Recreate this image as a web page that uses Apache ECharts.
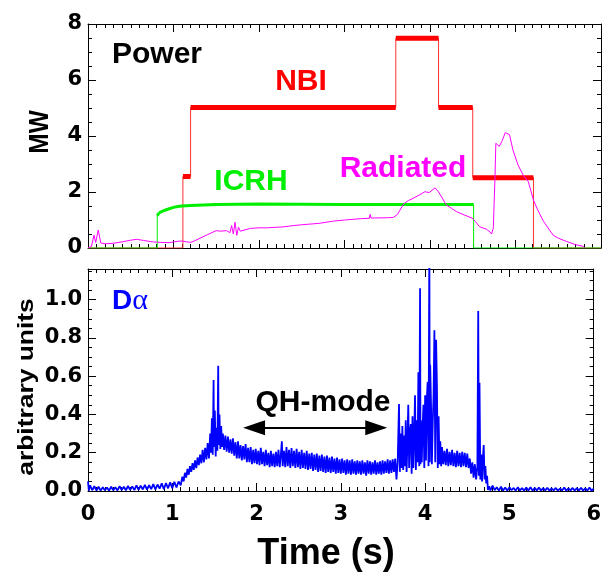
<!DOCTYPE html>
<html>
<head>
<meta charset="utf-8">
<script src="https://cdn.jsdelivr.net/npm/echarts@6/dist/echarts.min.js"></script>
<style>
html,body{margin:0;padding:0;background:#fff;}
#chart{width:604px;height:579px;}
</style>
</head>
<body>
<div id="chart"></div>
<script>
// ---------- data ----------
const xTickLabels = ['0','1','2','3','4','5','6'];
const powerTickLabels = ['0','2','4','6','8'];
const daTickLabels = ['0.0','0.2','0.4','0.6','0.8','1.0'];

// NBI power (MW), step trace
const nbiT = [0, 1.11, 1.11, 1.20, 1.20, 3.60, 3.60, 4.10, 4.10, 4.50, 4.50, 5.21, 5.21, 6.0];
const nbiP = [0, 0,    2.55, 2.55, 5.02, 5.02, 7.49, 7.49, 5.02, 5.02, 2.51, 2.51, 0,    0];

// ICRH power (MW)
const icrhT = [0, 0.81, 0.81, 0.83, 0.86, 0.90, 0.95, 1.00, 1.05, 1.10, 1.20, 1.50, 2.00, 2.50, 3.00, 3.50, 4.00, 4.51, 4.51, 6.0];
const icrhP = [0, 0,    1.15, 1.25, 1.30, 1.35, 1.40, 1.45, 1.48, 1.50, 1.52, 1.55, 1.57, 1.56, 1.55, 1.55, 1.55, 1.55, 0,    0];

// Radiated power (MW)
const radT = [0.00,0.04,0.07,0.09,0.12,0.15,0.20,0.30,0.40,0.50,0.57,0.65,0.75,0.85,0.95,1.05,1.10,1.15,1.20,1.25,1.31,1.40,1.50,1.55,1.62,1.66,1.68,1.70,1.72,1.74,1.76,1.78,1.80,1.90,2.00,2.09,2.20,2.27,2.40,2.50,2.70,2.87,3.00,3.20,3.29,3.30,3.31,3.50,3.57,3.62,3.69,3.75,3.80,3.88,3.94,3.99,4.06,4.10,4.15,4.19,4.25,4.31,4.40,4.49,4.53,4.58,4.66,4.70,4.72,4.74,4.76,4.77,4.81,4.84,4.88,4.93,4.97,5.03,5.09,5.15,5.21,5.26,5.33,5.44,5.50,5.60,5.70,5.79,5.81];
const radP = [0.00,0.05,0.46,0.20,0.64,0.18,0.15,0.17,0.22,0.28,0.31,0.27,0.22,0.20,0.19,0.24,0.25,0.22,0.20,0.26,0.35,0.48,0.62,0.60,0.62,0.55,0.80,0.50,0.92,0.45,0.75,0.60,0.65,0.70,0.72,0.72,0.74,0.75,0.80,0.83,0.88,0.96,1.00,1.05,1.06,1.20,1.07,1.08,1.09,1.20,1.57,1.70,1.77,1.90,2.01,1.98,2.15,2.00,1.75,1.54,1.42,1.30,1.18,1.07,0.95,0.76,0.67,0.58,0.50,0.70,2.50,3.74,3.63,3.80,4.12,4.05,3.50,2.96,2.60,2.37,1.71,1.36,0.94,0.46,0.35,0.23,0.12,0.06,0.00];

// D-alpha (arbitrary units), [time, value]
const dalpha = [
[0.000,0.050],[0.010,0.002],[0.025,0.030],[0.050,0.004],[0.075,0.025],[0.100,0.003],[0.125,0.022],[0.150,0.002],[0.175,0.020],[0.200,0.004],
[0.225,0.018],[0.250,0.002],[0.275,0.022],[0.300,0.004],[0.325,0.020],[0.350,0.003],[0.375,0.025],[0.400,0.005],[0.425,0.022],[0.450,0.004],
[0.475,0.026],[0.500,0.006],[0.525,0.024],[0.550,0.005],[0.575,0.030],[0.600,0.006],[0.625,0.028],[0.650,0.008],[0.675,0.032],[0.700,0.007],
[0.725,0.030],[0.750,0.010],[0.775,0.036],[0.800,0.008],[0.825,0.034],[0.850,0.012],[0.875,0.040],[0.900,0.010],[0.925,0.042],[0.950,0.014],
[0.975,0.045],[1.000,0.015],[1.025,0.048],[1.050,0.018],[1.075,0.050],[1.100,0.030],
[1.110,0.040],[1.120,0.075],[1.135,0.050],[1.150,0.095],[1.165,0.070],[1.180,0.115],[1.195,0.085],[1.210,0.130],[1.225,0.100],[1.240,0.145],
[1.255,0.110],[1.270,0.160],[1.285,0.120],[1.300,0.175],[1.315,0.135],[1.330,0.190],[1.345,0.145],[1.360,0.215],[1.375,0.150],[1.390,0.225],
[1.405,0.165],[1.420,0.250],[1.435,0.170],[1.450,0.300],[1.460,0.200],[1.470,0.380],[1.480,0.190],[1.490,0.580],[1.495,0.230],[1.505,0.420],
[1.515,0.180],[1.525,0.330],[1.535,0.210],[1.545,0.655],[1.550,0.240],[1.560,0.400],[1.570,0.220],[1.580,0.340],[1.590,0.230],[1.600,0.300],
[1.615,0.215],[1.630,0.290],[1.645,0.205],[1.660,0.285],[1.675,0.200],[1.690,0.270],[1.705,0.195],[1.720,0.275],[1.735,0.185],[1.750,0.255],
[1.765,0.170],[1.780,0.260],[1.795,0.170],[1.810,0.240],[1.825,0.160],[1.840,0.235],[1.855,0.165],[1.870,0.245],[1.885,0.150],[1.900,0.225],
[1.915,0.150],[1.930,0.230],[1.945,0.140],[1.960,0.215],[1.975,0.145],[1.990,0.220],[2.005,0.140],[2.020,0.210],[2.035,0.135],[2.050,0.225],
[2.065,0.140],[2.080,0.205],[2.095,0.130],[2.110,0.215],[2.125,0.135],[2.140,0.200],[2.155,0.125],[2.170,0.210],[2.185,0.130],[2.200,0.195],
[2.215,0.125],[2.230,0.205],[2.245,0.130],[2.260,0.215],[2.275,0.125],[2.290,0.200],[2.300,0.260],[2.310,0.130],[2.325,0.210],[2.340,0.125],
[2.355,0.230],[2.370,0.130],[2.385,0.215],[2.400,0.120],[2.415,0.225],[2.430,0.130],[2.445,0.210],[2.460,0.120],[2.475,0.220],[2.490,0.125],
[2.505,0.205],[2.520,0.115],[2.535,0.215],[2.550,0.120],[2.565,0.200],[2.580,0.115],[2.595,0.210],[2.610,0.110],[2.625,0.195],[2.640,0.115],
[2.655,0.200],[2.670,0.105],[2.685,0.190],[2.700,0.110],[2.715,0.195],[2.730,0.100],[2.745,0.185],[2.760,0.105],[2.775,0.190],[2.790,0.100],
[2.805,0.180],[2.820,0.095],[2.835,0.185],[2.850,0.100],[2.865,0.175],[2.880,0.095],[2.895,0.180],[2.910,0.100],[2.925,0.170],[2.940,0.090],
[2.955,0.175],[2.970,0.095],[2.985,0.165],[3.000,0.090],[3.015,0.170],[3.030,0.095],[3.045,0.160],[3.060,0.085],[3.075,0.165],[3.090,0.090],
[3.105,0.160],[3.120,0.085],[3.135,0.165],[3.150,0.090],[3.165,0.155],[3.180,0.085],[3.195,0.160],[3.210,0.090],[3.225,0.155],[3.240,0.085],
[3.255,0.160],[3.270,0.090],[3.285,0.150],[3.300,0.080],[3.315,0.160],[3.330,0.090],[3.345,0.155],[3.360,0.085],[3.375,0.150],[3.390,0.090],
[3.405,0.160],[3.420,0.085],[3.435,0.150],[3.450,0.090],[3.465,0.155],[3.480,0.085],[3.495,0.160],[3.510,0.090],[3.525,0.155],[3.540,0.095],
[3.555,0.165],[3.570,0.090],[3.585,0.160],[3.600,0.095],[3.615,0.165],[3.630,0.100],[3.645,0.170],[3.660,0.060],[3.675,0.160],[3.690,0.455],
[3.700,0.100],[3.710,0.300],[3.720,0.120],[3.730,0.340],[3.740,0.110],[3.750,0.290],[3.760,0.130],[3.770,0.370],[3.780,0.100],[3.790,0.250],
[3.800,0.450],[3.810,0.120],[3.820,0.300],[3.830,0.350],[3.840,0.090],[3.850,0.390],[3.860,0.120],[3.870,0.280],[3.880,0.500],[3.890,0.110],
[3.900,0.370],[3.910,0.150],[3.920,0.620],[3.930,0.130],[3.940,1.060],[3.945,0.140],[3.950,0.370],[3.960,0.150],[3.970,0.330],[3.980,0.450],
[3.990,0.120],[4.000,0.500],[4.010,0.160],[4.020,0.480],[4.030,0.570],[4.040,0.130],[4.050,1.300],[4.055,0.150],[4.060,0.660],[4.070,0.450],
[4.080,0.140],[4.090,0.350],[4.100,0.500],[4.110,0.840],[4.120,0.150],[4.130,0.790],[4.140,0.550],[4.150,0.120],[4.160,0.390],[4.170,0.140],
[4.180,0.260],[4.190,0.130],[4.200,0.230],[4.215,0.140],[4.230,0.210],[4.245,0.135],[4.260,0.220],[4.275,0.130],[4.290,0.205],[4.305,0.135],
[4.320,0.215],[4.335,0.130],[4.350,0.200],[4.365,0.125],[4.380,0.210],[4.395,0.130],[4.410,0.200],[4.425,0.125],[4.440,0.205],[4.455,0.130],
[4.470,0.200],[4.485,0.125],[4.500,0.195],[4.515,0.120],[4.530,0.170],[4.545,0.090],[4.560,0.150],[4.575,0.070],[4.590,0.140],[4.605,0.060],
[4.620,0.130],[4.630,0.940],[4.638,0.080],[4.645,0.565],[4.655,0.060],[4.665,0.190],[4.675,0.050],[4.685,0.170],[4.695,0.240],[4.705,0.060],
[4.715,0.130],[4.725,0.040],[4.735,0.080],[4.745,0.005],[4.760,0.025],
[4.775,0.003],[4.800,0.028],[4.825,0.004],[4.850,0.020],[4.875,0.002],[4.900,0.022],[4.925,0.003],[4.950,0.018],[4.975,0.002],[5.000,0.020],
[5.025,0.004],[5.050,0.016],[5.075,0.002],[5.100,0.019],[5.125,0.003],[5.150,0.015],[5.175,0.002],[5.200,0.018],[5.225,0.003],[5.250,0.020],
[5.275,0.002],[5.300,0.016],[5.325,0.003],[5.350,0.018],[5.375,0.002],[5.400,0.015],[5.425,0.003],[5.450,0.017],[5.475,0.002],[5.500,0.014],
[5.525,0.003],[5.550,0.016],[5.575,0.002],[5.600,0.013],[5.625,0.003],[5.650,0.018],[5.675,0.002],[5.700,0.014],[5.725,0.003],[5.750,0.016],
[5.775,0.002],[5.800,0.015],[5.825,0.003],[5.850,0.017],[5.875,0.002],[5.900,0.014],[5.925,0.003],[5.950,0.018],[5.975,0.002],[6.000,0.012]
];

// QH-mode double arrow (time span, level)
const arrowT = [1.97, 3.42];
const arrowV = 0.331;

// ---------- helpers ----------
const pairs = (T, P) => T.map((t, i) => [t, P[i]]);
function plateaus(T, P) {
  const out = [];
  for (let i = 0; i < T.length - 1; i++) {
    if (T[i] !== T[i + 1] && P[i] > 0 && P[i + 1] > 0) {
      out.push([T[i], P[i]], [T[i + 1], P[i + 1]], [null, null]);
    }
  }
  return out;
}

const LAB = 'DejaVu Sans';
const BLACK = '#000';

function xAx(gridIndex, position, showLabel) {
  return {
    type: 'value', gridIndex, position, min: 0, max: 6, interval: 1,
    axisLine: { show: true, onZero: false, lineStyle: { color: BLACK, width: 1 } },
    axisTick: { show: true, inside: true, length: 8, lineStyle: { color: BLACK, width: 1 } },
    minorTick: { show: true, splitNumber: 10, length: 4, lineStyle: { color: BLACK, width: 1 } },
    splitLine: { show: false }, minorSplitLine: { show: false },
    axisLabel: {
      show: showLabel, margin: 13, color: BLACK,
      fontFamily: LAB, fontWeight: 'bold', fontSize: 21,
      formatter: v => xTickLabels[Math.round(v)]
    }
  };
}
function yAx(gridIndex, position, max, interval, labels, showLabel) {
  return {
    type: 'value', gridIndex, position, min: 0, max, interval,
    axisLine: { show: true, onZero: false, lineStyle: { color: BLACK, width: 1 } },
    axisTick: { show: true, inside: true, length: 8, lineStyle: { color: BLACK, width: 1 } },
    minorTick: { show: true, splitNumber: 4, length: 4, lineStyle: { color: BLACK, width: 1 } },
    splitLine: { show: false }, minorSplitLine: { show: false },
    axisLabel: {
      show: showLabel, margin: 6, color: BLACK,
      fontFamily: LAB, fontWeight: 'bold', fontSize: 21,
      formatter: v => {
        const k = Math.round(v / interval);
        if (Math.abs(k * interval - v) > 1e-6) return '';
        return labels[k] !== undefined ? labels[k] : '';
      }
    }
  };
}

const chart = echarts.init(document.getElementById('chart'), null, { renderer: 'canvas' });

const option = {
  animation: false,
  backgroundColor: '#fff',
  grid: [
    { left: 88, right: 3, top: 24, height: 224 },
    { left: 88, right: 3, top: 269, height: 222 }
  ],
  xAxis: [
    xAx(0, 'bottom', false), xAx(0, 'top', false),
    xAx(1, 'bottom', true), xAx(1, 'top', false)
  ],
  yAxis: [
    yAx(0, 'left', 8, 2, powerTickLabels, true), yAx(0, 'right', 8, 2, powerTickLabels, false),
    yAx(1, 'left', 1.16, 0.2, daTickLabels, true), yAx(1, 'right', 1.16, 0.2, daTickLabels, false)
  ],
  series: [
    { type: 'line', xAxisIndex: 0, yAxisIndex: 0, data: pairs(nbiT, nbiP), showSymbol: false,
      lineStyle: { color: '#ff3030', width: 1 }, z: 3 },
    { type: 'line', xAxisIndex: 0, yAxisIndex: 0, data: plateaus(nbiT, nbiP), showSymbol: false, connectNulls: false,
      lineStyle: { color: '#ff0000', width: 5, cap: 'butt' }, z: 3 },
    { type: 'line', xAxisIndex: 0, yAxisIndex: 0, data: pairs(icrhT, icrhP), showSymbol: false,
      lineStyle: { color: '#00ee00', width: 1 }, z: 4 },
    { type: 'line', xAxisIndex: 0, yAxisIndex: 0, data: plateaus(icrhT, icrhP), showSymbol: false, connectNulls: false,
      lineStyle: { color: '#00ee00', width: 3, cap: 'butt' }, z: 4 },
    { type: 'line', xAxisIndex: 0, yAxisIndex: 0, data: pairs(radT, radP), showSymbol: false,
      lineStyle: { color: '#ff00ff', width: 1 }, z: 5 },
    { type: 'line', xAxisIndex: 2, yAxisIndex: 2, data: dalpha, showSymbol: false,
      lineStyle: { color: '#0000ff', width: 1.8 }, z: 3,
      markLine: {
        silent: true, animation: false,
        symbol: ['triangle', 'triangle'], symbolSize: [15, 22],
        lineStyle: { color: BLACK, width: 2, type: 'solid' },
        itemStyle: { color: BLACK },
        label: { show: false },
        data: [[{ coord: [arrowT[0], arrowV] }, { coord: [arrowT[1], arrowV] }]]
      }
    }
  ],
  graphic: [
    { type: 'text', x: 157, y: 55, style: { text: 'Power', font: 'bold 30px "Liberation Sans"', fill: BLACK, align: 'center', verticalAlign: 'middle', textAlign: 'center', textVerticalAlign: 'middle' } },
    { type: 'text', x: 301, y: 82, style: { text: 'NBI', font: 'bold 30px "Liberation Sans"', fill: '#ff0000', align: 'center', verticalAlign: 'middle', textAlign: 'center', textVerticalAlign: 'middle' } },
    { type: 'text', x: 251, y: 182, style: { text: 'ICRH', font: 'bold 30px "Liberation Sans"', fill: '#00ee00', align: 'center', verticalAlign: 'middle', textAlign: 'center', textVerticalAlign: 'middle' } },
    { type: 'text', x: 403, y: 169, style: { text: 'Radiated', font: 'bold 30px "Liberation Sans"', fill: '#ff00ff', align: 'center', verticalAlign: 'middle', textAlign: 'center', textVerticalAlign: 'middle' } },
    { type: 'text', x: 112, y: 301, style: {
        text: '{d|D}{a|α}', fill: '#0000ff', align: 'left', verticalAlign: 'middle', textAlign: 'left', textVerticalAlign: 'middle',
        rich: { d: { font: 'bold 28px "Liberation Sans"', fill: '#0000ff', color: '#0000ff' },
                a: { font: '30px "Liberation Serif"', fill: '#0000ff', color: '#0000ff' } } } },
    { type: 'text', x: 323, y: 403, style: { text: 'QH-mode', font: 'bold 30px "Liberation Sans"', fill: BLACK, align: 'center', verticalAlign: 'middle', textAlign: 'center', textVerticalAlign: 'middle' } },
    { type: 'text', x: 326, y: 554, style: { text: 'Time (s)', font: 'bold 36px "Liberation Sans"', fill: BLACK, align: 'center', verticalAlign: 'middle', textAlign: 'center', textVerticalAlign: 'middle' } },
    { type: 'text', x: 40, y: 132, rotation: Math.PI / 2, scaleX: 0.87, scaleY: 1,
      style: { text: 'MW', font: 'bold 28px "Liberation Sans"', fill: BLACK, align: 'center', verticalAlign: 'middle', textAlign: 'center', textVerticalAlign: 'middle' } },
    { type: 'text', x: 27, y: 387, rotation: Math.PI / 2, scaleX: 1.2, scaleY: 1,
      style: { text: 'arbitrary units', font: 'bold 22px "Liberation Sans"', fill: BLACK, align: 'center', verticalAlign: 'middle', textAlign: 'center', textVerticalAlign: 'middle' } }
  ]
};
chart.setOption(option);
</script>
</body>
</html>
